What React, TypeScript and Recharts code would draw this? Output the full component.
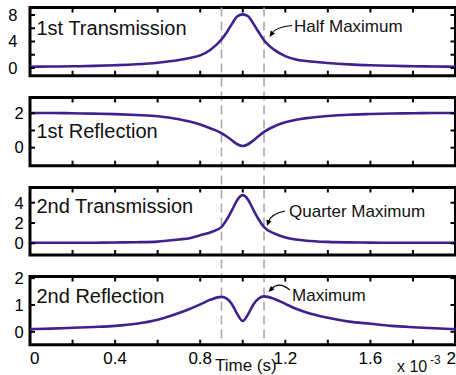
import React from 'react';
import { LineChart, Line, XAxis, YAxis, ReferenceLine, ReferenceArea, ReferenceDot } from 'recharts';

// ---- data (time in ms, i.e. x 10^-3 s) ----
const timeMs = [0, 0.1, 0.2, 0.3, 0.4, 0.5, 0.6, 0.7, 0.75, 0.8, 0.85, 0.9, 0.925, 0.95, 0.975, 1.0, 1.025, 1.05, 1.075, 1.1, 1.15, 1.2, 1.25, 1.3, 1.4, 1.5, 1.6, 1.7, 1.8, 1.9, 2.0];
const trans1 = [0.2, 0.22, 0.26, 0.32, 0.42, 0.56, 0.8, 1.2, 1.5, 1.9, 2.8, 4.3, 5.4, 6.7, 7.8, 8.1, 7.8, 6.7, 5.4, 4.2, 2.7, 1.8, 1.3, 1.05, 0.75, 0.55, 0.42, 0.33, 0.27, 0.23, 0.2];
const refl1 = [2.02, 2.02, 2.0, 1.98, 1.95, 1.9, 1.83, 1.65, 1.52, 1.35, 1.12, 0.85, 0.65, 0.42, 0.2, 0.1, 0.2, 0.42, 0.68, 0.92, 1.25, 1.48, 1.62, 1.72, 1.84, 1.92, 1.96, 1.99, 2.0, 2.02, 2.02];
const trans2 = [0.05, 0.05, 0.05, 0.06, 0.08, 0.11, 0.17, 0.38, 0.5, 0.8, 1.1, 1.6, 2.35, 3.3, 4.3, 4.75, 4.3, 3.3, 2.35, 1.6, 0.95, 0.58, 0.38, 0.26, 0.14, 0.09, 0.07, 0.06, 0.05, 0.05, 0.05];
const refl2 = [0.1, 0.12, 0.15, 0.18, 0.22, 0.3, 0.45, 0.7, 0.85, 1.02, 1.2, 1.3, 1.24, 1.02, 0.65, 0.4, 0.65, 1.02, 1.24, 1.32, 1.22, 1.04, 0.86, 0.72, 0.52, 0.38, 0.3, 0.22, 0.17, 0.13, 0.1];

const xTicks = [0, 0.2, 0.4, 0.6, 0.8, 1.0, 1.2, 1.4, 1.6, 1.8, 2.0];
const xLabelTicks = [0, 0.4, 0.8, 1.2, 1.6, 2];
const markerTimes = [0.9, 1.1];

const yTicks1 = [0, 2, 4, 6, 8];
const yLabels1 = [0, 4, 8];
const yTicks2 = [0, 1, 2];
const yLabels2 = [0, 2];
const yTicks3 = [0, 2, 4];
const yLabels3 = [0, 2, 4];
const yTicks4 = [0, 1, 2];
const yLabels4 = [0, 1, 2];

const titles = ['1st Transmission', '1st Reflection', '2nd Transmission', '2nd Reflection'];
const annotationTime = 1.1;

const data = timeMs.map((x, i) => ({ x, t1: trans1[i], r1: refl1[i], t2: trans2[i], r2: refl2[i] }));

// ---- layout / style ----
const W = 456;
const H = 375;
const PLOT_LEFT = 30;
const PLOT_RIGHT = 455.5;
const AX = 1; // axis thickness reserved by recharts (must be > 0 for ticks to render)
const FONT = "'Liberation Sans', Arial, Helvetica, sans-serif";
const LINE_COLOR = '#40208e';

const panels = [
  { key: 't1', series: trans1, top: 7.5, bottom: 75.7, domain: [-1.16, 9.13], ticks: yTicks1, labels: yLabels1, labelX: 17.5, titleY: 35,
    ann: { label: 'Half Maximum', tx: 30, ty: -8, s: [28, -14.7], q: [12, -13], t: [5.5, -3.2] } },
  { key: 'r1', series: refl1, top: 97.5, bottom: 165.7, domain: [-1.05, 2.92], ticks: yTicks2, labels: yLabels2, labelX: 23.8, titleY: 138.3, ann: null },
  { key: 't2', series: trans2, top: 187.5, bottom: 255, domain: [-1.15, 5.5], ticks: yTicks3, labels: yLabels3, labelX: 23.8, titleY: 213.3,
    ann: { label: 'Quarter Maximum', tx: 25, ty: -10.4, s: [21, -16], q: [7, -13], t: [3, -1] } },
  { key: 'r2', series: refl2, top: 276.5, bottom: 344.7, domain: [-0.48, 2.06], ticks: yTicks4, labels: yLabels4, labelX: 23.8, titleY: 303.3,
    ann: { label: 'Maximum', tx: 28, ty: 4.2, s: [26, -6.3], q: [15, -15.3], t: [4.5, -4.3] } },
];

const DASH_TOP = panels[0].top;
const DASH_BOTTOM = panels[3].bottom;

function makeXTick(P: any, showLabels: boolean) {
  return (p: any) => {
    const x = p.x;
    const v = p.payload.value;
    const isLabel = xLabelTicks.some((t) => Math.abs(t - v) < 1e-9);
    const isFirst = Math.abs(v - xLabelTicks[0]) < 1e-9;
    const isLast = Math.abs(v - xLabelTicks[xLabelTicks.length - 1]) < 1e-9;
    const anchor = isFirst ? 'start' : isLast ? 'end' : 'middle';
    const lx = isFirst ? x : isLast ? W : x;
    return (
      <g>
        <line x1={x} x2={x} y1={P.bottom} y2={P.bottom - 5} stroke="#000" strokeWidth={2} />
        <line x1={x} x2={x} y1={P.top} y2={P.top + 5} stroke="#000" strokeWidth={2} />
        {showLabels && isLabel && (
          <text x={lx} y={P.bottom + 19} textAnchor={anchor} fontSize={17} fontFamily={FONT} fill="#000">
            {String(v)}
          </text>
        )}
      </g>
    );
  };
}

function makeYTick(P: any) {
  return (p: any) => {
    const y = p.y;
    const v = p.payload.value;
    const isLabel = P.labels.includes(v);
    return (
      <g>
        <line x1={PLOT_LEFT} x2={PLOT_LEFT + 5} y1={y} y2={y} stroke="#000" strokeWidth={2} />
        <line x1={PLOT_RIGHT} x2={PLOT_RIGHT - 5} y1={y} y2={y} stroke="#000" strokeWidth={2} />
        {isLabel && (
          <text x={P.labelX} y={y + 5.8} textAnchor="end" fontSize={16.5} fontFamily={FONT} fill="#000">
            {String(v)}
          </text>
        )}
      </g>
    );
  };
}

function dashShape(p: any) {
  return (
    <line x1={p.x1} x2={p.x1} y1={DASH_TOP} y2={DASH_BOTTOM} stroke="#a9a9a9" strokeWidth={1.6} strokeDasharray="9 5" />
  );
}

function makeArrow(a: any) {
  return (p: any) => {
    const cx = p.cx;
    const cy = p.cy;
    const sx = cx + a.s[0], sy = cy + a.s[1];
    const qx = cx + a.q[0], qy = cy + a.q[1];
    const tx = cx + a.t[0], ty = cy + a.t[1];
    const dx = tx - qx, dy = ty - qy;
    const len = Math.hypot(dx, dy) || 1;
    const ux = dx / len, uy = dy / len;
    const L = 6, Wd = 2.6;
    const bx = tx - ux * L, by = ty - uy * L;
    const pts = `${tx},${ty} ${bx - uy * Wd},${by + ux * Wd} ${bx + uy * Wd},${by - ux * Wd}`;
    return (
      <g>
        <path d={`M${sx},${sy} Q${qx},${qy} ${bx + ux},${by + uy}`} fill="none" stroke="#000" strokeWidth={1.1} />
        <polygon points={pts} fill="#000" />
        <text x={cx + a.tx} y={cy + a.ty} fontSize={17} fontFamily={FONT} fill="#111">
          {a.label}
        </text>
      </g>
    );
  };
}

export default function App() {
  const annIdx = timeMs.indexOf(annotationTime);
  return (
    <div style={{ position: 'absolute', left: 0, top: 0, width: W, height: H, background: '#fff', overflow: 'hidden' }}>
      {panels.map((P, i) => (
        <div key={P.key} style={{ position: 'absolute', left: 0, top: 0 }}>
          <LineChart
            width={W}
            height={H}
            data={data}
            margin={{ top: P.top, right: W - PLOT_RIGHT, bottom: H - P.bottom - AX, left: PLOT_LEFT - AX }}
          >
            <XAxis
              xAxisId="x"
              dataKey="x"
              type="number"
              domain={[0, 2]}
              ticks={xTicks}
              interval={0}
              height={AX}
              axisLine={false}
              tickLine={false}
              tickSize={0}
              tickMargin={0}
              tick={makeXTick(P, i === panels.length - 1)}
            />
            <YAxis
              yAxisId="y"
              type="number"
              domain={P.domain}
              ticks={P.ticks}
              interval={0}
              width={AX}
              axisLine={false}
              tickLine={false}
              tickSize={0}
              tickMargin={0}
              tick={makeYTick(P)}
            />
            {i === 0 &&
              markerTimes.map((t) => (
                <ReferenceLine key={t} xAxisId="x" yAxisId="y" x={t} shape={dashShape} />
              ))}
            <ReferenceArea
              xAxisId="x"
              yAxisId="y"
              x1={0}
              x2={2}
              y1={P.domain[0]}
              y2={P.domain[1]}
              fill="none"
              fillOpacity={0}
              stroke="#000"
              strokeWidth={3}
              strokeOpacity={1}
            />
            <Line
              xAxisId="x"
              yAxisId="y"
              dataKey={P.key}
              type="monotone"
              stroke={LINE_COLOR}
              strokeWidth={2.6}
              dot={false}
              activeDot={false}
              isAnimationActive={false}
            />
            {P.ann && (
              <ReferenceDot
                xAxisId="x"
                yAxisId="y"
                x={annotationTime}
                y={P.series[annIdx]}
                r={0}
                shape={makeArrow(P.ann)}
              />
            )}
          </LineChart>
        </div>
      ))}
      <svg width={W} height={H} style={{ position: 'absolute', left: 0, top: 0, pointerEvents: 'none' }}>
        {panels.map((P, i) => (
          <text key={P.key} x={36.5} y={P.titleY} fontSize={20} fontFamily={FONT} fill="#111">
            {titles[i]}
          </text>
        ))}
        <text x={215} y={370.5} fontSize={17} fontFamily={FONT} fill="#111">Time (s)</text>
        <text x={397} y={371.5} fontSize={16} fontFamily={FONT} fill="#111">x 10</text>
        <text x={430} y={363.5} fontSize={12} fontFamily={FONT} fill="#111">-3</text>
      </svg>
    </div>
  );
}
